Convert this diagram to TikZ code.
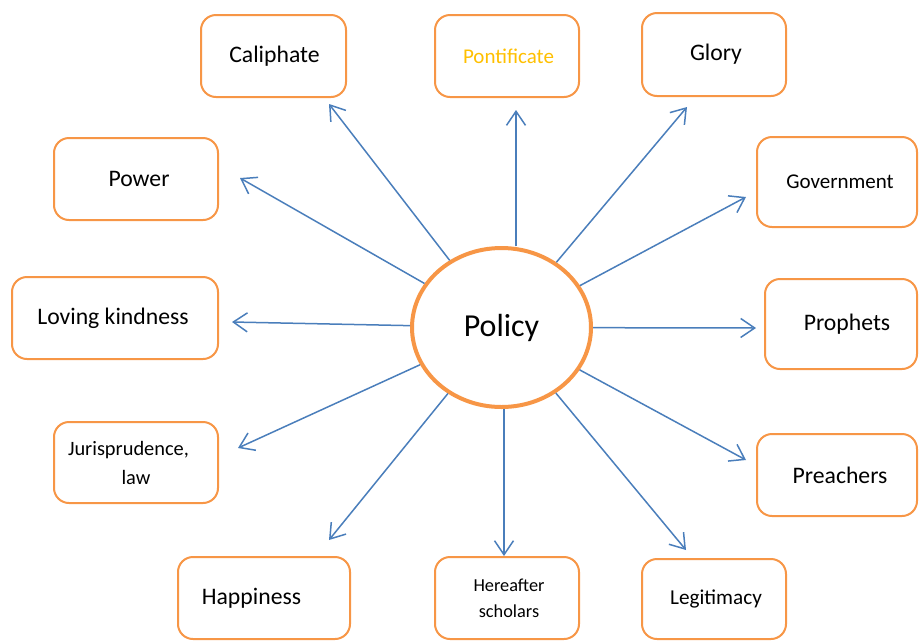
\documentclass[tikz,border=0pt]{standalone}
\usepackage{fontspec}
\setmainfont{Carlito}
\usetikzlibrary{shapes.geometric,arrows.meta}
\definecolor{boxorange}{HTML}{F79646}
\definecolor{arrowblue}{HTML}{4A7EBB}
\definecolor{goldtext}{HTML}{FFC000}
\begin{document}
\begin{tikzpicture}[x=1pt,y=-1pt,
  topic/.style={draw=boxorange,line width=2pt,rounded corners=15pt,fill=white,
    inner sep=0pt,align=center,font=\fontsize{23.7}{28}\selectfont},
  hub/.style={ellipse,draw=boxorange,line width=4pt,fill=white,inner sep=0pt,
    minimum width=179pt,minimum height=159pt,font=\fontsize{32}{38}\selectfont},
  conn/.style={draw=arrowblue,line width=1.5pt,
    -{Straight Barb[length=14pt,width=19pt,line width=1.5pt]}}]
\useasboundingbox (0,0) rectangle (919,641);

\node[hub] (policy) at (501.5,327.5) {Policy};

\node[topic,minimum width=145pt,minimum height=82pt] (caliphate) at (273.5,56) {\hspace*{2pt}Caliphate};
\node[topic,minimum width=144pt,minimum height=82pt,text=goldtext,font=\fontsize{21}{25}\selectfont] (pontificate) at (507,56) {\hspace*{3pt}Pontificate};
\node[topic,minimum width=144pt,minimum height=83pt] (glory) at (714,54.5) {\hspace*{4pt}Glory};
\node[topic,minimum width=164pt,minimum height=82pt] (power) at (136,179) {\hspace*{6pt}Power};
\node[topic,minimum width=160pt,minimum height=90pt,font=\fontsize{21}{25}\selectfont] (government) at (837,182) {\hspace*{6pt}Government};
\node[topic,minimum width=206pt,minimum height=82pt] (loving) at (115,318) {\hspace*{-4pt}Loving kindness};
\node[topic,minimum width=152pt,minimum height=90pt] (prophets) at (841,324) {\hspace*{12pt}Prophets};
\node[topic,minimum width=164pt,minimum height=81pt,font=\fontsize{20.4}{29}\selectfont] (juris) at (136,462.5) {\hspace*{-15pt}Jurisprudence,\\law};
\node[topic,minimum width=160pt,minimum height=82pt] (preachers) at (837,475) {\hspace*{6pt}Preachers};
\node[topic,minimum width=172pt,minimum height=82pt] (happiness) at (264,598) {\hspace*{-25pt}Happiness};
\node[topic,minimum width=144pt,minimum height=82pt,font=\fontsize{18.3}{26}\selectfont] (hereafter) at (507,598) {\hspace*{4pt}Hereafter\\\hspace*{4pt}scholars};
\node[topic,minimum width=144pt,minimum height=80pt,font=\fontsize{21.2}{25}\selectfont] (legitimacy) at (714,599) {\hspace*{4pt}Legitimacy};

\coordinate (tcal) at (329,104);
\coordinate (tpon) at (516,110);
\coordinate (tglo) at (687,107);
\coordinate (tpow) at (240,178);
\coordinate (tgov) at (746,197);
\coordinate (tlov) at (232,322);
\coordinate (tpro) at (756,328);
\coordinate (tjur) at (238,448);
\coordinate (tpre) at (746,460);
\coordinate (thap) at (329,540);
\coordinate (ther) at (504,556);
\coordinate (tleg) at (686,550);

\draw[conn] (policy) -- (tcal);
\draw[conn] (policy.north -| tpon) -- (tpon);
\draw[conn] (policy) -- (tglo);
\draw[conn] (policy) -- (tpow);
\draw[conn] (policy) -- (tgov);
\draw[conn] (policy) -- (tlov);
\draw[conn] (policy) -- (tpro);
\draw[conn] (policy) -- (tjur);
\draw[conn] (policy) -- (tpre);
\draw[conn] (policy) -- (thap);
\draw[conn] (policy.south -| ther) -- (ther);
\draw[conn] (policy) -- (tleg);
\end{tikzpicture}
\end{document}
